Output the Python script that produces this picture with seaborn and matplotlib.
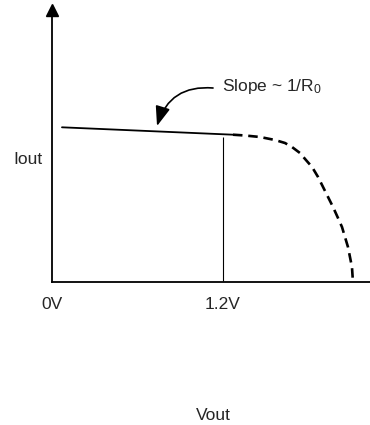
import numpy as np
import pandas as pd
import seaborn as sns
import matplotlib.pyplot as plt

# values (x in V, y in arbitrary current units)
vout_solid = [0.07, 1.27]
iout_solid = [1.547, 1.473]
vout_dash = [1.270, 1.354, 1.460, 1.565, 1.635, 1.684, 1.740, 1.782, 1.825, 1.867,
             1.902, 1.937, 1.972, 2.007, 2.035, 2.056, 2.077, 2.091, 2.105, 2.112]
iout_dash = [1.473, 1.465, 1.45, 1.42, 1.39, 1.35, 1.29, 1.22, 1.15, 1.05,
             0.95, 0.85, 0.75, 0.64, 0.55, 0.45, 0.35, 0.25, 0.15, 0.0]
knee_v = 1.2
knee_top = 1.45
tick_pos = [0, 1.2]
tick_labels = ["0V", "1.2V"]

sns.set_style("white")
plt.rcParams['font.family'] = ['Liberation Sans', 'DejaVu Sans']
plt.rcParams['mathtext.fontset'] = 'custom'
plt.rcParams['mathtext.rm'] = 'Liberation Sans'
plt.rcParams['mathtext.it'] = 'Liberation Sans'

fig = plt.figure(figsize=(3.7, 4.25), dpi=100)
ax = fig.add_axes([52 / 370, 143 / 425, 318 / 370, 272 / 425])

solid = pd.DataFrame({"Vout": vout_solid, "Iout": iout_solid})
dash = pd.DataFrame({"Vout": vout_dash, "Iout": iout_dash})
sns.lineplot(data=solid, x="Vout", y="Iout", color="black", lw=1.3, ax=ax, sort=False)
sns.lineplot(data=dash, x="Vout", y="Iout", color="black", lw=1.9, ax=ax, sort=False,
             estimator=None)
ax.lines[-1].set_dashes((3.6, 2.2))
ax.vlines(knee_v, 0.01, knee_top, color="black", lw=0.8)

ax.set_xlim(0, 318 / 142.5)
ax.set_ylim(0, 2.72)
sns.despine(ax=ax)
for s in ["left", "bottom"]:
    ax.spines[s].set_linewidth(1.3)
    ax.spines[s].set_color("black")
# arrow head on the y axis
ax.plot([0], [2.72], marker="^", ms=9, color="black", clip_on=False)

fs = 12.5
ax.set_xticks(tick_pos)
ax.set_xticklabels(tick_labels, fontsize=fs)
ax.set_yticks([])
ax.tick_params(axis="x", length=0, pad=11)

ax.set_xlabel("Vout", fontsize=fs)
ax.xaxis.set_label_coords((213 - 52) / 318, -(415 - 282) / 272)
ax.xaxis.label.set_va("center")
ax.set_ylabel("Iout", fontsize=fs, rotation=0)
ax.yaxis.set_label_coords(-(52 - 28) / 318, (282 - 160) / 272)
ax.yaxis.label.set_va("center")
ax.yaxis.label.set_ha("center")

ax.text(1.193, 1.95, "Slope ~ 1/R$_0$", fontsize=fs, va="center", ha="left")
ax.annotate("", xy=(0.737, 1.56), xytext=(1.13, 1.94),
            arrowprops=dict(arrowstyle="-|>,head_length=1.2,head_width=0.45",
                            connectionstyle="arc3,rad=0.4", color="black", lw=1.2,
                            shrinkA=0, shrinkB=0))

plt.savefig("out.png", dpi=100)
